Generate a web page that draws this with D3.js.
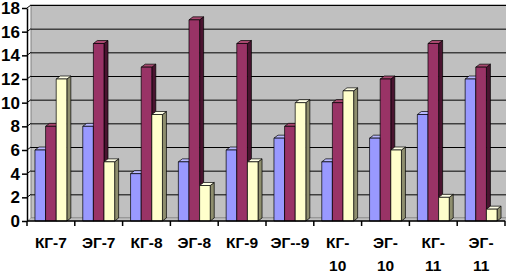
<!DOCTYPE html>
<html>
<head>
<meta charset="utf-8">
<script src="https://cdn.jsdelivr.net/npm/d3@7"></script>
<style>
  body { margin: 0; background: #fff; }
  text { font-family: "Liberation Sans", Arial, sans-serif; font-weight: bold; }
</style>
</head>
<body>
<svg id="chart"></svg>
<script>
// chart values
const categories = ['КГ-7', 'ЭГ-7', 'КГ-8', 'ЭГ-8', 'КГ-9', 'ЭГ--9', 'КГ-10', 'ЭГ-10', 'КГ-11', 'ЭГ-11'];
const series1 = [6, 8, 4, 5, 6, 7, 5, 7, 9, 12];
const series2 = [8, 15, 13, 17, 15, 8, 10, 12, 15, 13];
const series3 = [12, 5, 9, 3, 5, 10, 11, 6, 2, 1];
const yTicks = [0, 2, 4, 6, 8, 10, 12, 14, 16, 18];

const chartW = 506, chartH = 274;
const plotLeft = 27, plotRight = 505, plotBottom = 221, plotTop = 8;
const dx = 4, dy = 3; // depth of the 3d look

const colors = [
  { front: '#9999ff', top: '#b8b8ff', side: '#5e5eae' },
  { front: '#993366', top: '#a8486f', side: '#4a1430' },
  { front: '#ffffcc', top: '#ffffe6', side: '#8e8e6e' }
];

const svg = d3.select('#chart')
    .attr('width', chartW)
    .attr('height', chartH);

const xScale = d3.scaleBand()
    .domain(categories)
    .range([plotLeft, plotRight]);

const gap = xScale.bandwidth() * 0.75 / 4.5;
const xInner = d3.scaleBand()
    .domain([0, 1, 2])
    .range([gap, xScale.bandwidth() - gap])
    .paddingInner(0);

const yScale = d3.scaleLinear()
    .domain([0, 18])
    .range([plotBottom, plotTop]);

// back wall
svg.append('rect')
    .attr('x', plotLeft + dx)
    .attr('y', yScale(18) - dy)
    .attr('width', plotRight - plotLeft)
    .attr('height', yScale(0) - yScale(18))
    .attr('fill', '#c0c0c0')
    .attr('stroke', '#808080')
    .attr('stroke-width', 1);

// floor
svg.append('polygon')
    .attr('points', [[plotLeft, plotBottom], [plotRight, plotBottom], [plotRight + dx, plotBottom - dy], [plotLeft + dx, plotBottom - dy]].join(' '))
    .attr('fill', '#c0c0c0')
    .attr('stroke', '#808080')
    .attr('stroke-width', 0.5);

// gridlines on the wall
svg.append('g')
    .selectAll('line')
    .data(yTicks.filter(d => d > 0))
    .join('line')
    .attr('x1', plotLeft + dx)
    .attr('x2', plotRight + dx)
    .attr('y1', d => yScale(d) - dy + 0.5)
    .attr('y2', d => yScale(d) - dy + 0.5)
    .attr('stroke', '#000')
    .attr('stroke-width', 1);

svg.append('g')
    .selectAll('line')
    .data(yTicks.filter(d => d > 0))
    .join('line')
    .attr('x1', plotLeft)
    .attr('x2', plotLeft + dx)
    .attr('y1', d => yScale(d))
    .attr('y2', d => yScale(d) - dy)
    .attr('stroke', '#000')
    .attr('stroke-width', 1);

// bars
const allSeries = [series1, series2, series3];
categories.forEach((cat, i) => {
  allSeries.forEach((s, k) => {
    const v = s[i];
    const x0 = xScale(cat) + xInner(k);
    const w = xInner.bandwidth();
    const y0 = yScale(v);
    const y1 = yScale(0);
    const g = svg.append('g').attr('stroke', '#000').attr('stroke-width', 0.7).attr('stroke-linejoin', 'round');
    // side
    g.append('polygon')
        .attr('points', [[x0 + w, y0], [x0 + w + dx, y0 - dy], [x0 + w + dx, y1 - dy], [x0 + w, y1]].join(' '))
        .attr('fill', colors[k].side);
    // top
    g.append('polygon')
        .attr('points', [[x0, y0], [x0 + dx, y0 - dy], [x0 + w + dx, y0 - dy], [x0 + w, y0]].join(' '))
        .attr('fill', colors[k].top);
    // front
    g.append('rect')
        .attr('x', x0)
        .attr('y', y0)
        .attr('width', w)
        .attr('height', y1 - y0)
        .attr('fill', colors[k].front);
  });
});

// y axis
const yAxis = d3.axisLeft(yScale)
    .tickValues(yTicks)
    .tickSize(5)
    .tickSizeOuter(0)
    .tickPadding(2);

const yAxisG = svg.append('g')
    .attr('transform', `translate(${plotLeft},0)`)
    .call(yAxis);
yAxisG.select('.domain').attr('stroke', '#000').attr('stroke-width', 1.5);
yAxisG.selectAll('.tick line').attr('stroke', '#000').attr('stroke-width', 1.5);
yAxisG.selectAll('.tick text')
    .attr('fill', '#000')
    .style('font-size', '17px')
    .style('font-weight', 'bold')
    .style('font-family', '"Liberation Sans", Arial, sans-serif');

// x axis
svg.append('line')
    .attr('x1', plotLeft).attr('x2', plotRight)
    .attr('y1', plotBottom).attr('y2', plotBottom)
    .attr('stroke', '#000').attr('stroke-width', 1.5);

svg.append('g')
    .selectAll('line')
    .data(categories.concat(['end']))
    .join('line')
    .attr('x1', (d, i) => plotLeft + i * xScale.step())
    .attr('x2', (d, i) => plotLeft + i * xScale.step())
    .attr('y1', plotBottom)
    .attr('y2', plotBottom + 5)
    .attr('stroke', '#000').attr('stroke-width', 1.5);

const labels = svg.append('g')
    .selectAll('text')
    .data(categories)
    .join('text')
    .attr('x', d => xScale(d) + xScale.bandwidth() / 2)
    .attr('y', 248)
    .attr('text-anchor', 'middle')
    .style('font-size', '15.5px')
    .text(d => d);

// labels with a two digit grade go on two lines like the original
labels.each(function(d) {
  const t = d3.select(this);
  const cut = d.lastIndexOf('-') + 1;
  if (d.length - cut > 1) {
    t.text(null);
    t.append('tspan').attr('x', t.attr('x')).text(d.slice(0, cut));
    t.append('tspan').attr('x', t.attr('x')).attr('dy', 23).text(d.slice(cut));
  }
});
</script>
</body>
</html>
